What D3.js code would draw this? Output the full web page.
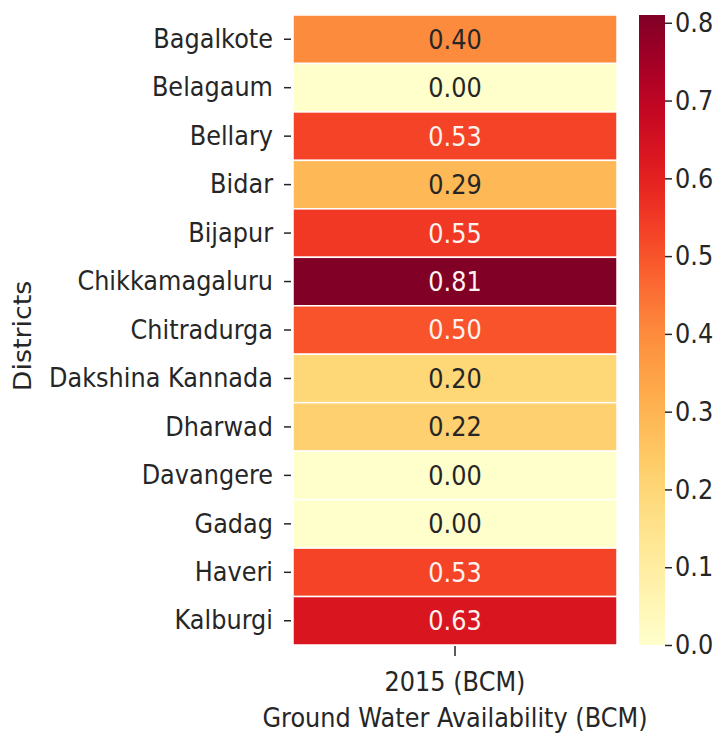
<!DOCTYPE html>
<html>
<head>
<meta charset="utf-8">
<script src="https://cdn.jsdelivr.net/npm/d3@7"></script>
<style>
body{margin:0;background:#fff;}
text{font-family:"DejaVu Sans",sans-serif;}
text.st{transform-box:fill-box;transform-origin:center;transform:scaleY(1.12);}
text.rot{transform-box:fill-box;transform-origin:center;transform:rotate(-90deg) scaleX(1.12);}
</style>
</head>
<body>
<svg id="chart" width="724" height="734"></svg>
<script>
const districts = ["Bagalkote","Belagaum","Bellary","Bidar","Bijapur","Chikkamagaluru","Chitradurga","Dakshina Kannada","Dharwad","Davangere","Gadag","Haveri","Kalburgi"];
const values = [0.40,0.00,0.53,0.29,0.55,0.81,0.50,0.20,0.22,0.00,0.00,0.53,0.63];
const columns = ["2015 (BCM)"];
const colorbarTicks = [0.0,0.1,0.2,0.3,0.4,0.5,0.6,0.7,0.8];
const xTitle = "Ground Water Availability (BCM)";
const yTitle = "Districts";

(function(){
const svg = d3.select("#chart");
const pL = 293, pR = 617, pT = 15, pB = 645;
const fs = 24;
const textCol = "#262626";

const x = d3.scaleBand().domain(columns).range([pL, pR]);
const y = d3.scaleBand().domain(districts).range([pT, pB]);
const vmax = d3.max(values);
const color = d3.scaleSequential(d3.interpolateYlOrRd).domain([0, vmax]);

function lum(c){
  const r = d3.rgb(c);
  const f = v => { v/=255; return v <= 0.03928 ? v/12.92 : Math.pow((v+0.055)/1.055, 2.4); };
  return 0.2126*f(r.r)+0.7152*f(r.g)+0.0722*f(r.b);
}

const rows = districts.map((d,i)=>({d, v: values[i], c: columns[0]}));
svg.append("g").selectAll("rect").data(rows).join("rect")
  .attr("x", d=>x(d.c)).attr("y", d=>y(d.d))
  .attr("width", x.bandwidth()).attr("height", y.bandwidth())
  .attr("fill", d=>color(d.v))
  .attr("stroke", "#fff").attr("stroke-width", 1.5);

svg.append("g").selectAll("text").data(rows).join("text")
  .attr("class","st")
  .attr("x", d=>x(d.c)+x.bandwidth()/2)
  .attr("y", d=>y(d.d)+y.bandwidth()/2)
  .attr("text-anchor","middle").attr("dominant-baseline","central")
  .attr("font-size", fs)
  .attr("fill", d=> lum(color(d.v)) > 0.33 ? textCol : "#fff2ee")
  .text(d=>d.v.toFixed(2));

const yAxis = svg.append("g").attr("transform", `translate(${pL-2},0)`)
  .call(d3.axisLeft(y).tickSize(7).tickPadding(11));
yAxis.select(".domain").remove();
yAxis.selectAll("line").attr("stroke", textCol).attr("stroke-width",1.5);
yAxis.selectAll("text").attr("class","st").attr("font-size", fs).attr("fill", textCol).attr("font-family","DejaVu Sans");

const xAxis = svg.append("g").attr("transform", `translate(0,${pB+1})`)
  .call(d3.axisBottom(x).tickSize(10).tickPadding(17));
xAxis.select(".domain").remove();
xAxis.selectAll("line").attr("stroke", textCol).attr("stroke-width",1.5);
xAxis.selectAll("text").attr("class","st").attr("font-size", fs).attr("fill", textCol).attr("font-family","DejaVu Sans");

svg.append("text").attr("class","st").attr("x", (pL+pR)/2).attr("y", 726)
  .attr("text-anchor","middle").attr("font-size", fs).attr("fill", textCol).text(xTitle);
svg.append("text").attr("class","rot").attr("x", 23).attr("y", 336)
  .attr("text-anchor","middle").attr("dominant-baseline","central")
  .attr("font-size", fs).attr("fill", textCol).text(yTitle);

const cbX = 639, cbW = 26;
const cb = d3.scaleLinear().domain([0, vmax]).range([pB, pT]);
const grad = svg.append("defs").append("linearGradient").attr("id","cbg")
  .attr("x1","0").attr("y1","1").attr("x2","0").attr("y2","0");
d3.range(0, 1.0001, 0.05).forEach(t=>{
  grad.append("stop").attr("offset", t).attr("stop-color", color(t*vmax));
});
svg.append("rect").attr("x", cbX).attr("y", pT).attr("width", cbW).attr("height", pB-pT)
  .attr("fill","url(#cbg)");
const cAxis = svg.append("g").attr("transform", `translate(${cbX+cbW},0)`)
  .call(d3.axisRight(cb).tickValues(colorbarTicks).tickFormat(d3.format(".1f")).tickSize(7).tickPadding(3));
cAxis.select(".domain").remove();
cAxis.selectAll("line").attr("stroke", textCol).attr("stroke-width",1.5);
cAxis.selectAll("text").attr("class","st").attr("font-size", fs).attr("fill", textCol).attr("font-family","DejaVu Sans");
})();
</script>
</body>
</html>
